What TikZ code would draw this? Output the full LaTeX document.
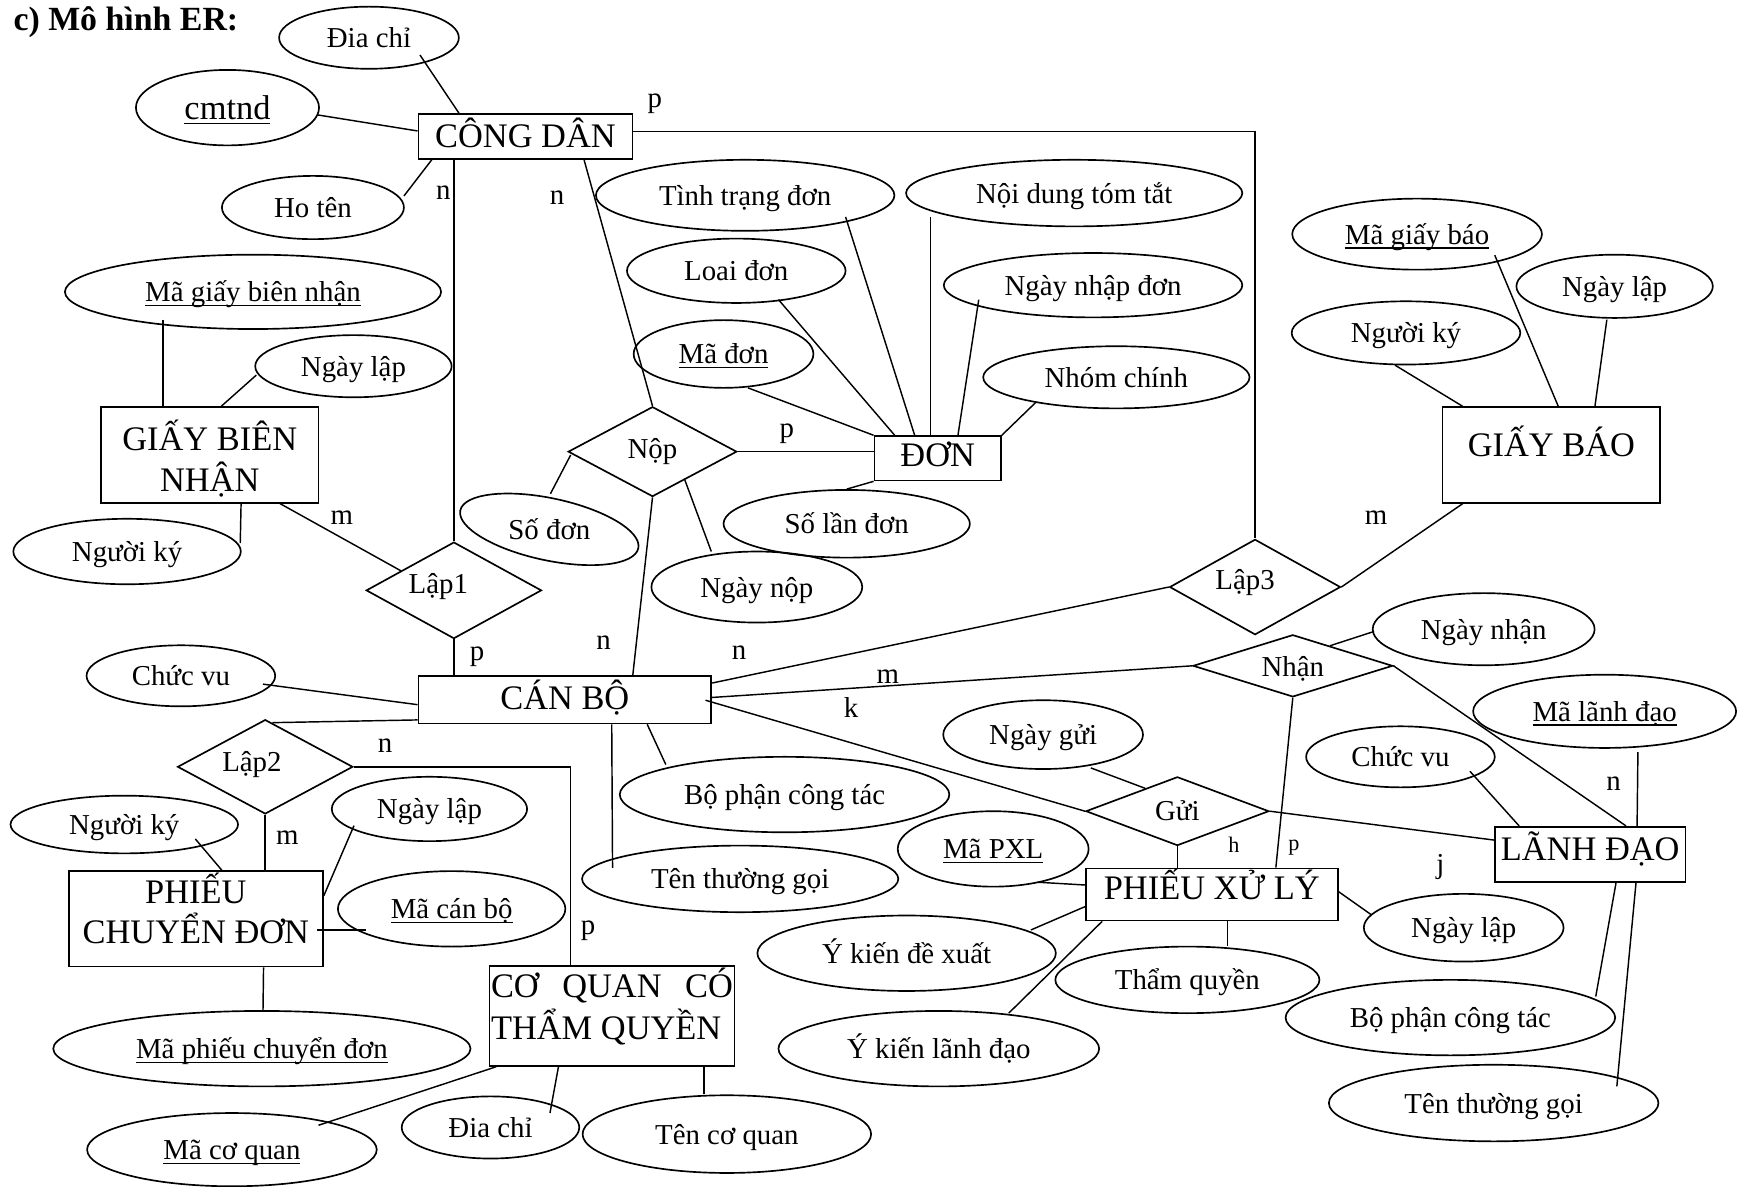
\documentclass[tikz,border=0pt]{standalone}
\usepackage{fontspec}
\setmainfont{Liberation Serif}
\usepackage{graphicx}
\usetikzlibrary{shapes.geometric,calc}

% two stacked lines with a fixed baseline distance (centred / left aligned)
\newcommand\twoline[3]{\vbox{\baselineskip=#3\lineskiplimit=-100pt\lineskip=0pt\halign{\hfil##\hfil\cr#1\cr#2\cr}}}
\newcommand\twolineleft[3]{\vbox{\baselineskip=#3\lineskiplimit=-100pt\lineskip=0pt\halign{##\hfil\cr#1\cr#2\cr}}}
% key attributes: underline drawn just below the baseline
\newcommand\ulx[1]{\setbox0=\hbox{#1}\rlap{\rule[-4pt]{\wd0}{1.3pt}}\box0}

\tikzset{
  link/.style={line width=1.3pt},
  attr/.style={draw, ellipse, line width=1.5pt, inner sep=0pt,
    font=\fontsize{26}{30}\selectfont, text height=18pt, text depth=0pt},
  attrtext/.style={inner sep=0pt, font=\fontsize{26}{30}\selectfont, text height=18pt, text depth=0pt},
  ent/.style={draw, rectangle, line width=1.5pt, inner sep=0pt,
    font=\fontsize{31}{37}\selectfont, text height=17pt, text depth=0pt},
  rel/.style={draw, diamond, shape aspect=2.5, line width=1.5pt, inner sep=0pt,
    font=\fontsize{26}{30}\selectfont, text depth=0pt},
  card/.style={inner sep=0pt, font=\fontsize{26}{30}\selectfont, text height=11.9pt, text depth=0pt},
  cardsm/.style={inner sep=0pt, font=\fontsize{20}{24}\selectfont, text height=9.2pt, text depth=0pt},
}

\begin{document}
\begin{tikzpicture}[x=1pt,y=-1pt]
\useasboundingbox (0,0) rectangle (1568,1069);
\fill[white] (0,0) rectangle (1568,1069);

\node[anchor=base west, inner sep=0pt, font=\bfseries\fontsize{30.5}{36}\selectfont] (title) at (12,27.5) {c) Mô hình ER:};

% ---------- entities ----------
\node[ent, minimum width=193pt, minimum height=40pt, text height=20pt] (cd) at (473.5,123) {CÔNG DÂN};
\node[ent, minimum width=114pt, minimum height=40pt, text height=15pt] (don) at (845,413) {ĐƠN};
\node[ent, minimum width=196pt, minimum height=86pt, text height=66pt] (gbn) at (189,410) {\twoline{GIẤY BIÊN}{NHẬN}{37pt}};
\node[ent, minimum width=196pt, minimum height=86pt, text height=3pt] (gb) at (1398,410) {GIẤY BÁO};
\node[ent, minimum width=264pt, minimum height=43pt, text height=17pt] (cb) at (509,630.5) {CÁN BỘ};
\node[ent, minimum width=229pt, minimum height=86pt, text height=44pt] (pcd) at (176.5,828) {\twoline{PHIẾU}{CHUYỂN ĐƠN}{36pt}};
\node[ent, minimum width=221pt, minimum height=90pt, text height=43pt] (cq) at (551.5,915.5) {\twolineleft{\makebox[218pt][s]{CƠ\hfill QUAN\hfill CÓ}}{THẨM QUYỀN}{38pt}};
\node[ent, minimum width=227pt, minimum height=47pt, text height=10pt] (pxl) at (1092,806) {PHIẾU XỬ LÝ};
\node[ent, minimum width=172pt, minimum height=50pt, text height=10pt] (ld) at (1433,770) {LÃNH ĐẠO};

% ---------- relationships ----------
\node[rel, minimum width=152pt, minimum height=81pt, text height=12pt] (nop) at (588,407) {Nộp};
\node[rel, minimum width=158pt, minimum height=87pt, text height=5pt] (lap1) at (409,532) {\hspace*{-28pt}Lập1};
\node[rel, minimum width=154pt, minimum height=86pt, text height=5pt] (lap3) at (1131,529) {\hspace*{-18pt}Lập3};
\node[rel, minimum width=180pt, minimum height=56pt, text height=19pt] (nhan) at (1165,600) {Nhận};
\node[rel, minimum width=165pt, minimum height=62pt, text height=16pt] (gui) at (1061,731) {Gửi};
\node[rel, minimum width=158pt, minimum height=85pt, text height=9pt] (lap2) at (239,691) {\hspace*{-24pt}Lập2};

% ---------- attributes ----------
\node[attr, minimum width=162pt, minimum height=56pt] (dc1) at (332.5,34) {Đia chỉ};
\node[attr, minimum width=165pt, minimum height=68pt, font=\fontsize{31}{37}\selectfont, text height=22pt] (cmtnd) at (205,97) {\ulx{cmtnd}};
\node[attr, minimum width=164pt, minimum height=57pt] (hoten) at (282,187) {Ho tên};
\node[attr, minimum width=269pt, minimum height=64pt] (ttd) at (671.5,176) {Tình trạng đơn};
\node[attr, minimum width=303pt, minimum height=60pt] (ndtt) at (968,174) {Nội dung tóm tắt};
\node[attr, minimum width=197pt, minimum height=58pt] (loai) at (663.5,244) {Loai đơn};
\node[attr, minimum width=269pt, minimum height=58pt] (nnd) at (985,257) {Ngày nhập đơn};
\node[attr, minimum width=162pt, minimum height=61pt] (mad) at (652,319) {\ulx{Mã đơn}};
\node[attr, minimum width=240pt, minimum height=56pt] (nhom) at (1006,340) {Nhóm chính};
\node[attr, minimum width=222pt, minimum height=61pt] (sld) at (763,472) {Số lần đơn};
\node[attr, minimum width=164pt, minimum height=56pt, rotate=-12] (sodon) at (495,477) {};
\node[attrtext] (sodontext) at (495,477) {Số đơn};
\node[attr, minimum width=190pt, minimum height=64pt] (ngaynop) at (682,529) {Ngày nộp};
\node[attr, minimum width=339pt, minimum height=67pt] (mgbn) at (228,263) {\ulx{Mã giấy biên nhận}};
\node[attr, minimum width=177pt, minimum height=56pt] (nl1) at (318.5,330) {Ngày lập};
\node[attr, minimum width=205pt, minimum height=59pt] (nk1) at (114.5,497) {Người ký};
\node[attr, minimum width=225pt, minimum height=64pt] (mgb) at (1277,211) {\ulx{Mã giấy báo}};
\node[attr, minimum width=177pt, minimum height=57pt] (nl2) at (1455,258) {Ngày lập};
\node[attr, minimum width=206pt, minimum height=57pt] (nk2) at (1267,300) {Người ký};
\node[attr, minimum width=170pt, minimum height=55pt] (cv1) at (163,609) {Chức vu};
\node[attr, minimum width=297pt, minimum height=68pt] (bpct1) at (707,716) {Bộ phận công tác};
\node[attr, minimum width=285pt, minimum height=60pt] (ttg1) at (667,792) {Tên thường gọi};
\node[attr, minimum width=205pt, minimum height=52pt] (nk3) at (112,743) {Người ký};
\node[attr, minimum width=176pt, minimum height=58pt] (nl3) at (387,729) {Ngày lập};
\node[attr, minimum width=205pt, minimum height=68pt] (mcb) at (407,819) {\ulx{Mã cán bộ}};
\node[attr, minimum width=376pt, minimum height=68pt] (mpcd) at (236,945) {\ulx{Mã phiếu chuyển đơn}};
\node[attr, minimum width=261pt, minimum height=66pt] (mcq) at (209,1036) {\ulx{Mã cơ quan}};
\node[attr, minimum width=160pt, minimum height=56pt] (dc2) at (442,1016) {Đia chỉ};
\node[attr, minimum width=260pt, minimum height=70pt] (tcq) at (655,1022) {Tên cơ quan};
\node[attr, minimum width=200pt, minimum height=65pt] (ngaynhan) at (1337,567) {Ngày nhận};
\node[attr, minimum width=237pt, minimum height=66pt] (mld) at (1446,641) {\ulx{Mã lãnh đạo}};
\node[attr, minimum width=170pt, minimum height=55pt] (cv2) at (1262,682) {Chức vu};
\node[attr, minimum width=180pt, minimum height=62pt] (ngaygui) at (940,662) {Ngày gửi};
\node[attr, minimum width=172pt, minimum height=68pt] (mpxl) at (895,765) {\ulx{Mã PXL}};
\node[attr, minimum width=269pt, minimum height=68pt] (ykdx) at (817,859) {Ý kiến đề xuất};
\node[attr, minimum width=238pt, minimum height=60pt] (tq) at (1070,883) {Thẩm quyền};
\node[attr, minimum width=289pt, minimum height=68pt] (ykld) at (846,945) {Ý kiến lãnh đạo};
\node[attr, minimum width=180pt, minimum height=61pt] (nl4) at (1319,836) {Ngày lập};
\node[attr, minimum width=297pt, minimum height=68pt] (bpct2) at (1307,917) {Bộ phận công tác};
\node[attr, minimum width=297pt, minimum height=69pt] (ttg2) at (1346,994) {Tên thường gọi};

% ---------- connectors ----------
\begin{scope}[link]
% CÔNG DÂN
\draw ($(dc1)+(46,15.6)$) -- ($(cd.north west)+(37.5,0)$);
\draw ($(cmtnd)+(81.5,6.6)$) -- ($(cd.west)+(0,-5)$);
\draw ($(hoten)+(82,-10.4)$) -- ($(cd.south west)+(13,0)$);
\draw (cd.south -| lap1.north) -- (lap1.north);
\draw ($(cd.south west)+(150,0)$) -- (nop.north);
\draw ($(cd.east)+(0,-4.5)$) -| (lap3.north);
% ĐƠN
\draw ($(ttd)+(90.5,19.5)$) -- ($(don.north west)+(37,0)$);
\coordinate (ndttfoot) at ($(ndtt)+(-129.5,21.5)$);
\draw (ndttfoot) -- (ndttfoot |- don.north);
\draw ($(loai)+(38,26)$) -- ($(don.north west)+(19,0)$);
\draw ($(nnd)+(-103,13)$) -- ($(don.north west)+(76,0)$);
\draw ($(mad)+(22,30.5)$) -- (don.north west);
\draw ($(nhom)+(-72,22)$) -- (don.north east);
\draw (sld.north) -- (don.south west);
% Nộp
\draw (nop.east) -- (nop.east -| don.west);
\draw ($(sodon)+(1,-32)$) -- ($(nop.west)+(3,3)$);
\draw ($(ngaynop)+(-41,-32)$) -- ($(nop.south)!0.38!(nop.east)$);
\draw (nop.south) -- ($(cb.north west)+(194,0)$);
% GIẤY BIÊN NHẬN
\coordinate (mgbnfoot) at ($(mgbn)+(-81,25)$);
\draw (mgbnfoot) -- (mgbnfoot |- gbn.north);
\draw ($(nl1)+(-87.5,8)$) -- ($(gbn.north west)+(109,0)$);
\draw ($(gbn.south west)+(127,0)$) -- ($(nk1)+(102,-7.5)$);
\draw ($(gbn.south west)+(162,0)$) -- ($(lap1.west)!0.4!(lap1.north)$);
\draw (lap1.south) -- (lap1.south |- cb.north);
% GIẤY BÁO
\draw ($(mgb)+(70,19)$) -- ($(gb.north west)+(105,0)$);
\draw ($(nl2)+(-7,30)$) -- ($(gb.north west)+(138,0)$);
\draw ($(nk2)+(-10,29)$) -- ($(gb.north west)+(19,0)$);
\draw ($(gb.south west)+(19,0)$) -- (lap3.east);
% CÁN BỘ
\draw ($(cv1)+(74,7.5)$) -- ($(cb.west)+(0,4.5)$);
\draw ($(cb.south west)+(0,-4)$) -- ($(lap2.north)!0.08!(lap2.east)$);
\draw (lap2.east) -| ($(cq.north west)+(74,0)$);
\draw (lap2.south) -- (lap2.south |- pcd.north);
\draw ($(cb.south west)+(207,0)$) -- ($(bpct1)+(-107,-27)$);
\draw ($(cb.south west)+(175,0)$) -- ($(ttg1)+(-115,-10)$);
\draw ($(cb.east)+(0,-15)$) -- (lap3.west);
\draw ($(cb.east)+(0,-2)$) -- (nhan.west);
\draw ($(cb.east)+(-6,0.5)$) -- (gui.west);
% Nhận, LÃNH ĐẠO
\draw ($(nhan.north)!0.37!(nhan.east)$) -- ($(ngaynhan.west)+(2,2)$);
\draw (nhan.east) -- ($(ld.north west)+(119,0)$);
\draw (nhan.south) -- ($(pxl.north west)+(172,0)$);
\draw ($(mld.south)+(30,3)$) -- ($(ld.north west)+(129,0)$);
\draw ($(cv2)+(62.6,13)$) -- ($(ld.north west)+(22.7,0)$);
\draw (gui.east) -- ($(ld.west)+(0,-13)$);
\draw ($(ld.south west)+(110,0)$) -- ($(bpct2)+(131,-19)$);
\draw ($(ld.south west)+(128,0)$) -- ($(ttg2)+(111,-15)$);
% Gửi, PHIẾU XỬ LÝ
\draw ($(ngaygui)+(43,30)$) -- ($(gui.west)!0.65!(gui.north)$);
\draw (gui.south) -- (gui.south |- pxl.north);
\draw ($(mpxl)+(40,30)$) -- ($(pxl.west)+(0,-8.5)$);
\draw ($(ykdx)+(112,-21)$) -- ($(pxl.west)+(0,11)$);
\draw ($(ykld)+(63,-32)$) -- ($(pxl.south west)+(15.5,0)$);
\coordinate (tqtop) at ($(pxl.south west)+(128.5,0)$);
\draw (tqtop) -- (tqtop |- tq.north);
\draw ($(pxl.east)+(0,-2.5)$) -- ($(nl4)+(-83,-11.5)$);
% PHIẾU CHUYỂN ĐƠN
\draw ($(nk3)+(64,13)$) -- ($(pcd.north west)+(138.7,0)$);
\draw ($(nl3)+(-68,15)$) -- ($(pcd.north east)+(0,23)$);
\draw ($(pcd.east)+(-6,10)$) -- ($(mcb)+(-77.5,19)$);
\draw ($(pcd.south)+(61,0)$) -- ($(mpcd.north)+(1,0)$);
% CƠ QUAN CÓ THẨM QUYỀN
\draw ($(cq.south west)+(7,0)$) -- ($(mcq)+(78,-22)$);
\draw ($(cq.south west)+(63,0)$) -- ($(dc2)+(53.6,-13)$);
\coordinate (tcqtop) at ($(cq.south west)+(194,0)$);
\draw (tcqtop) -- (tcqtop |- tcq.north);
\end{scope}

% ---------- cardinalities ----------
\node[card] (c1) at (590,91) {p};
\node[card] (c2) at (399.5,174) {n};
\node[card] (c3) at (502,178) {n};
\node[card] (c4) at (709,388) {p};
\node[card] (c5) at (308,467) {m};
\node[card] (c6) at (430,589) {p};
\node[card] (c7) at (544,579) {n};
\node[card] (c8) at (666,588) {n};
\node[card] (c9) at (800,610) {m};
\node[card] (c10) at (767,641) {k};
\node[card] (c11) at (1240,467) {m};
\node[card] (c12) at (347,672) {n};
\node[card] (c13) at (259,755) {m};
\node[card] (c14) at (530,836) {p};
\node[cardsm] (c15) at (1112,764) {h};
\node[cardsm] (c16) at (1166,762) {p};
\node[card] (c17) at (1298,781) {j};
\node[card] (c18) at (1454,706) {n};
\end{tikzpicture}
\end{document}
